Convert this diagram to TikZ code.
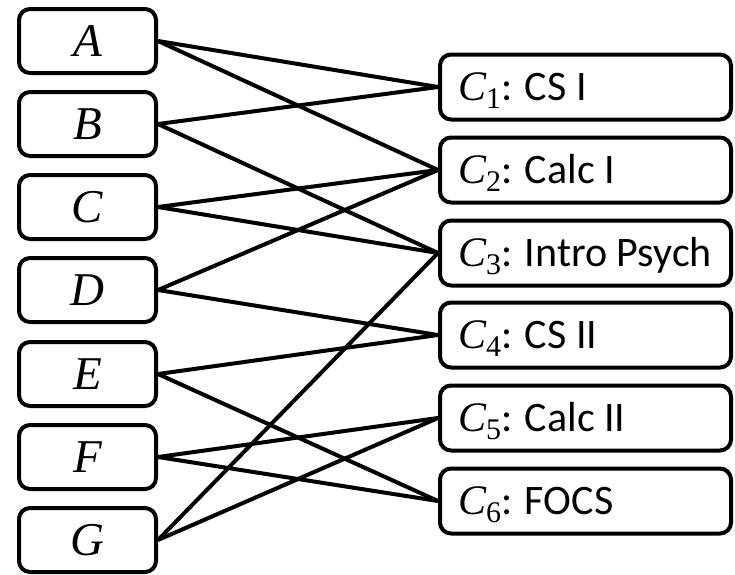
\documentclass[tikz,border=0pt]{standalone}
\usepackage{fontspec}
\setmainfont{Carlito}
\newfontfamily\mfont{Liberation Serif}
\newcommand\mletter[1]{{\mfont\itshape #1}}
\newcommand\csub[2]{{\mfont\itshape #1}\raisebox{-8pt}{\fontsize{30}{30}\selectfont\mfont #2}}
\newcommand\rtext[1]{\makebox[255pt][l]{#1}}
\begin{document}
\begin{tikzpicture}[x=1pt,y=-1pt,
  lbox/.style={draw,line width=4pt,rounded corners=11pt,minimum width=137pt,minimum height=64pt,
    inner sep=0pt,text height=31pt,text depth=0pt,align=center,font=\fontsize{47}{52}\selectfont},
  rbox/.style={draw,line width=4pt,rounded corners=11pt,minimum width=291pt,minimum height=65pt,
    inner sep=0pt,text height=27pt,text depth=0pt,
    font=\fontsize{42}{48}\selectfont},
  edge/.style={line width=4pt}]
\useasboundingbox (0,0) rectangle (735,574);
\node[lbox] (a) at (87.5,41) {\mletter{A}};
\node[lbox] (b) at (87.5,124) {\mletter{B}};
\node[lbox] (c) at (87.5,207) {\mletter{C}};
\node[lbox] (d) at (87.5,290) {\mletter{D}};
\node[lbox] (e) at (87.5,374) {\mletter{E}};
\node[lbox] (f) at (87.5,457) {\mletter{F}};
\node[lbox] (g) at (87.5,540) {\mletter{G}};
\node[rbox] (c1) at (585.5,87) {\rtext{\csub{C}{1}: CS I}};
\node[rbox] (c2) at (585.5,170) {\rtext{\csub{C}{2}: Calc I}};
\node[rbox] (c3) at (585.5,253) {\rtext{\csub{C}{3}: Intro Psych}};
\node[rbox] (c4) at (585.5,335) {\rtext{\csub{C}{4}: CS II}};
\node[rbox] (c5) at (585.5,418) {\rtext{\csub{C}{5}: Calc II}};
\node[rbox] (c6) at (585.5,501) {\rtext{\csub{C}{6}: FOCS}};
\draw[edge] (a.east) -- (c1.west);
\draw[edge] (a.east) -- (c2.west);
\draw[edge] (b.east) -- (c1.west);
\draw[edge] (b.east) -- (c3.west);
\draw[edge] (c.east) -- (c2.west);
\draw[edge] (c.east) -- (c3.west);
\draw[edge] (d.east) -- (c2.west);
\draw[edge] (d.east) -- (c4.west);
\draw[edge] (e.east) -- (c4.west);
\draw[edge] (e.east) -- (c6.west);
\draw[edge] (f.east) -- (c5.west);
\draw[edge] (f.east) -- (c6.west);
\draw[edge] (g.east) -- (c3.west);
\draw[edge] (g.east) -- (c5.west);
\end{tikzpicture}
\end{document}
